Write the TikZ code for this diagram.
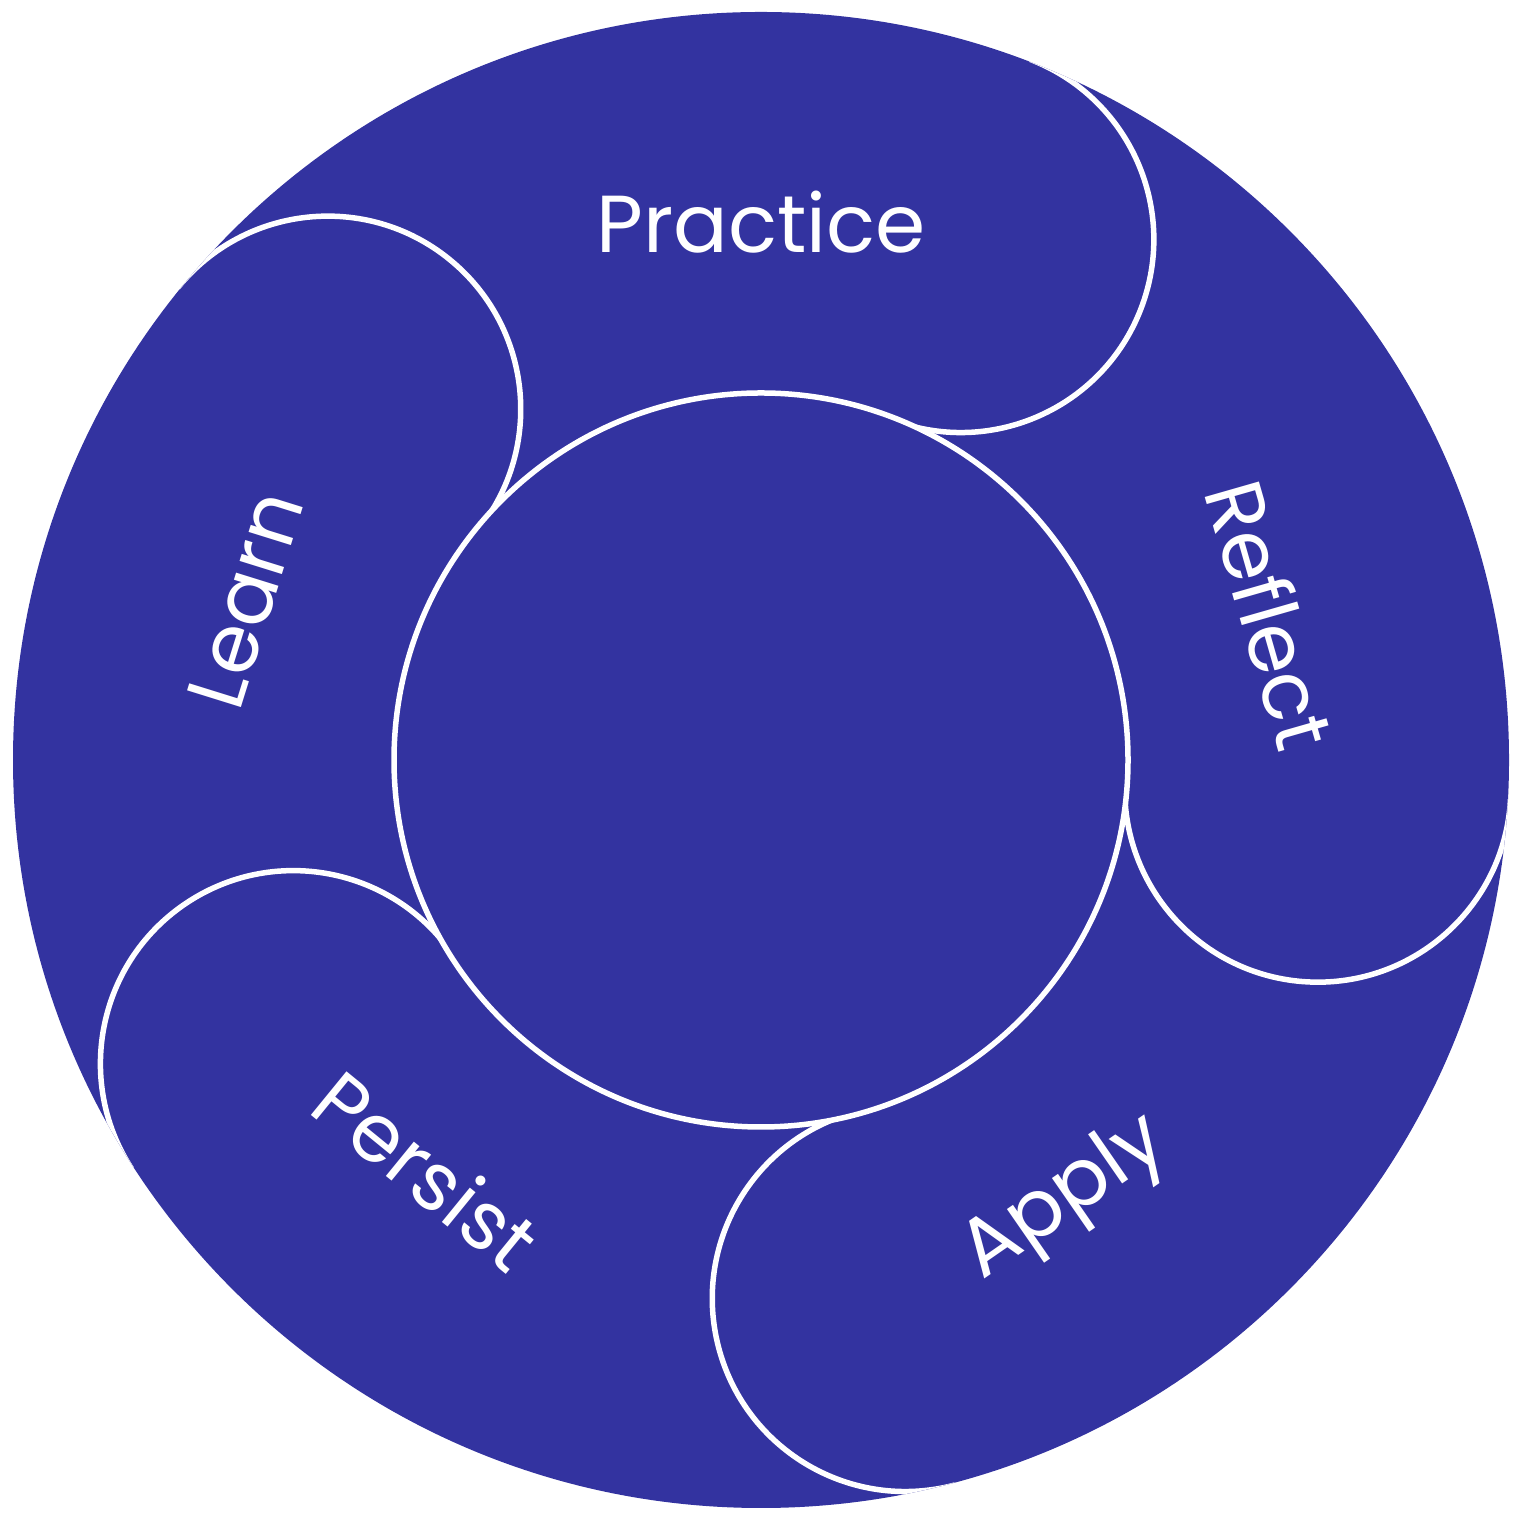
\documentclass[tikz,border=0pt]{standalone}
\usepackage{fontspec}
\setmainfont{Poppins}
\usetikzlibrary{calc}
\definecolor{ringblue}{HTML}{3333A0}
\begin{document}
\begin{tikzpicture}
\tikzset{lbl/.style={text=white,font=\fontsize{23}{28}\selectfont},
  wline/.style={draw=white,line width=0.55mm}}
\useasboundingbox (0,0) rectangle (15.22,15.22);
\coordinate (c) at (7.61,7.62);
\fill[ringblue] (c) circle (7.48);
\begin{scope}
\clip (c) circle (7.48);
\foreach \a in {69,141,213,285,357}{
  \draw[wline] ($(c)+(\a:5.575)+(\a:1.93)$) arc[start angle=\a,end angle=\a-180,radius=1.93];
}
\end{scope}
\node[circle,wline,fill=ringblue,minimum size=7.34cm,inner sep=0] (inner) at (c) {};
\node[lbl] (practice) at ($(c)+(90:5.38)$) {Practice};
\node[lbl,rotate=72.7] (learn) at ($(c)+(162.7:5.40)$) {Learn};
\node[lbl,rotate=-74] (reflect) at ($(c)+(15.9:5.30)$) {Reflect};
\node[lbl,rotate=34.7] (apply) at ($(c)+(-55.3:5.35)$) {Apply};
\node[lbl,rotate=-39.2] (persist) at ($(c)+(-129.2:5.29)$) {Persist};
\end{tikzpicture}
\end{document}
